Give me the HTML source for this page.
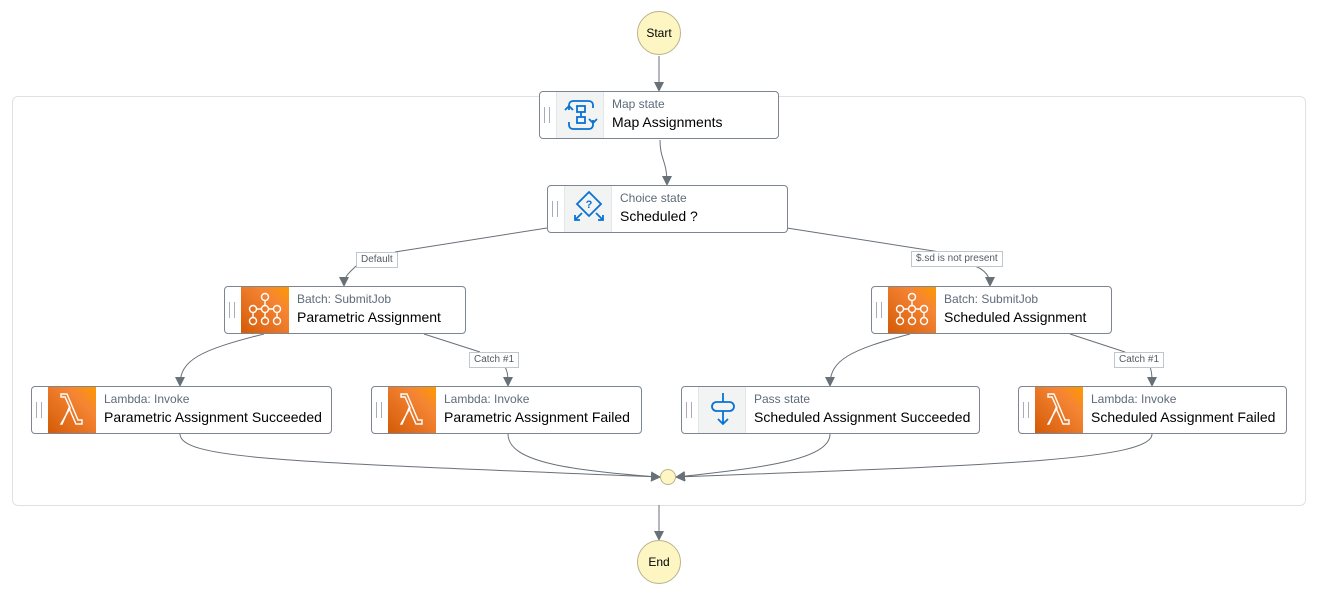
<!DOCTYPE html>
<html><head><meta charset="utf-8"><style>
body{margin:0;width:1318px;height:597px;background:#fff;position:relative;overflow:hidden;font-family:"Liberation Sans",Arial,sans-serif}
.c{position:absolute;left:12px;top:96px;width:1292px;height:408px;border:1.5px solid #dfe2e5;border-radius:6px}
.n{position:absolute;height:48px;border:1px solid #7d8590;border-radius:4px;background:#fff;box-sizing:border-box}
.h{position:absolute;left:4px;top:15px;width:4px;height:16px;border-left:1px solid #aab;border-right:1px solid #aab}
.i{position:absolute;left:16px;top:0;width:48px;height:46px}
.o{background:linear-gradient(45deg,#d45b07,#f58534 70%,#f90)}
.g{background:#f2f3f3;border-left:1px solid #e3e5e8;border-right:1px solid #e3e5e8;box-sizing:border-box}
.s{position:absolute;left:72px;top:5px;font-size:12px;color:#5f6b7a;white-space:nowrap}
.t{position:absolute;left:72px;top:22px;font-size:14px;color:#000;white-space:nowrap}
.l{position:absolute;height:14px;border:1px solid #bfc6cc;background:#fff;font-size:10px;color:#545b64;line-height:14px;padding:0 4px;white-space:nowrap}
.ci{position:absolute;border-radius:50%;background:#fdf6c3;border:1px solid #b9b38a;box-sizing:border-box;text-align:center;font-size:12px;color:#000}
svg{position:absolute;left:0;top:0}
</style></head><body>
<div class="c"></div>
<svg width="1318" height="597">
<defs><marker id="a" markerWidth="10" markerHeight="10" refX="8" refY="5" orient="auto" markerUnits="userSpaceOnUse"><path d="M0,0L10,5L0,10z" fill="#687078"/></marker></defs>
<g fill="none" stroke="#687078" stroke-width="1">
<path d="M659,56V90" marker-end="url(#a)"/>
<path d="M660,140C660,160 667,160 667,184" marker-end="url(#a)"/>
<path d="M547,228L395,252M356,266C350,272 344,276 344,285" marker-end="url(#a)"/>
<path d="M787,228L940,252M975,266C985,270 990,276 990,285" marker-end="url(#a)"/>
<path d="M264,334C200,350 180,360 180,385" marker-end="url(#a)"/>
<path d="M424,334L480,352M505,367C508,372 508,378 508,385" marker-end="url(#a)"/>
<path d="M910,334C850,350 830,360 830,385" marker-end="url(#a)"/>
<path d="M1070,334L1125,352M1150,367C1152,372 1152,378 1152,385" marker-end="url(#a)"/>
<path d="M180,434C180,460 300,462 659,477" marker-end="url(#a)"/>
<path d="M508,434C508,460 560,470 659,477" marker-end="url(#a)"/>
<path d="M830,434C830,460 760,468 677,477" marker-end="url(#a)"/>
<path d="M1152,434C1152,460 1000,465 677,477" marker-end="url(#a)"/>
<path d="M659,505V539" marker-end="url(#a)"/>
</g>
</svg>
<div class="ci" style="left:637px;top:11px;width:44px;height:44px;line-height:42px">Start</div>
<div class="ci" style="left:637px;top:540px;width:44px;height:44px;line-height:42px">End</div>
<div class="ci" style="left:660px;top:469px;width:16px;height:16px"></div>

<div class="n" style="left:539px;top:91px;width:240px"><div class="h"></div><div class="i g"><svg width="48" height="46" viewBox="0 0 48 46"><g fill="none" stroke="#0972d3" stroke-width="1.8"><path d="M12,18v-5a4,4 0 0 1 4-4h16a4,4 0 0 1 4,4v3M36,28v5a4,4 0 0 1-4,4H16a4,4 0 0 1-4-4v-3"/><rect x="20" y="14" width="8" height="6"/><rect x="20" y="25" width="8" height="6"/><path d="M24,20v5M8,18l4,-4 4,4M32,27l4,4 4-4"/></g></svg></div><div class="s">Map state</div><div class="t">Map Assignments</div></div>

<div class="n" style="left:547px;top:185px;width:241px"><div class="h"></div><div class="i g"><svg width="48" height="46" viewBox="0 0 48 46"><g fill="none" stroke="#0972d3" stroke-width="1.8"><path d="M24,6l12,12-12,12-12-12z"/><path d="M17,27l-7,7M10,29v5h5M31,27l7,7M38,29v5h-5"/></g><text x="24" y="22" font-size="11" font-weight="bold" fill="#0972d3" text-anchor="middle" font-family="Liberation Sans">?</text></svg></div><div class="s">Choice state</div><div class="t">Scheduled ?</div></div>

<div class="l" style="left:356px;top:252px">Default</div>
<div class="l" style="left:911px;top:251px">$.sd is not present</div>
<div class="l" style="left:469px;top:352px">Catch #1</div>
<div class="l" style="left:1114px;top:352px">Catch #1</div>

<div class="n" style="left:224px;top:286px;width:242px"><div class="h"></div><div class="i o"><svg width="48" height="46" viewBox="0 0 48 46"><g fill="none" stroke="#fff" stroke-width="1.4"><circle cx="24" cy="10" r="3.5"/><circle cx="24" cy="22" r="3.5"/><circle cx="12" cy="22" r="3.5"/><circle cx="36" cy="22" r="3.5"/><circle cx="12" cy="34" r="3.5"/><circle cx="24" cy="34" r="3.5"/><circle cx="36" cy="34" r="3.5"/><path d="M24,13.5v5M15.5,22h5M27.5,22h5M24,25.5v5M12,25.5v5M36,25.5v5"/></g></svg></div><div class="s">Batch: SubmitJob</div><div class="t">Parametric Assignment</div></div>

<div class="n" style="left:871px;top:286px;width:241px"><div class="h"></div><div class="i o"><svg width="48" height="46" viewBox="0 0 48 46"><g fill="none" stroke="#fff" stroke-width="1.4"><circle cx="24" cy="10" r="3.5"/><circle cx="24" cy="22" r="3.5"/><circle cx="12" cy="22" r="3.5"/><circle cx="36" cy="22" r="3.5"/><circle cx="12" cy="34" r="3.5"/><circle cx="24" cy="34" r="3.5"/><circle cx="36" cy="34" r="3.5"/><path d="M24,13.5v5M15.5,22h5M27.5,22h5M24,25.5v5M12,25.5v5M36,25.5v5"/></g></svg></div><div class="s">Batch: SubmitJob</div><div class="t">Scheduled Assignment</div></div>

<div class="n" style="left:31px;top:386px;width:301px"><div class="h"></div><div class="i o"><svg width="48" height="46" viewBox="0 0 48 46"><path d="M13,37l9-16-5-11h-4v-3h6l11,26h4v4h-6l-7-16-7,16z" fill="none" stroke="#fff" stroke-width="1.4"/></svg></div><div class="s">Lambda: Invoke</div><div class="t">Parametric Assignment Succeeded</div></div>

<div class="n" style="left:371px;top:386px;width:271px"><div class="h"></div><div class="i o"><svg width="48" height="46" viewBox="0 0 48 46"><path d="M13,37l9-16-5-11h-4v-3h6l11,26h4v4h-6l-7-16-7,16z" fill="none" stroke="#fff" stroke-width="1.4"/></svg></div><div class="s">Lambda: Invoke</div><div class="t">Parametric Assignment Failed</div></div>

<div class="n" style="left:681px;top:386px;width:299px"><div class="h"></div><div class="i g"><svg width="48" height="46" viewBox="0 0 48 46"><g fill="none" stroke="#0972d3" stroke-width="1.8"><path d="M24,6v9M24,24v13M19,32l5,5 5-5"/><rect x="13" y="15" width="22" height="9" rx="4.5"/></g></svg></div><div class="s">Pass state</div><div class="t">Scheduled Assignment Succeeded</div></div>

<div class="n" style="left:1018px;top:386px;width:269px"><div class="h"></div><div class="i o"><svg width="48" height="46" viewBox="0 0 48 46"><path d="M13,37l9-16-5-11h-4v-3h6l11,26h4v4h-6l-7-16-7,16z" fill="none" stroke="#fff" stroke-width="1.4"/></svg></div><div class="s">Lambda: Invoke</div><div class="t">Scheduled Assignment Failed</div></div>
</body></html>
